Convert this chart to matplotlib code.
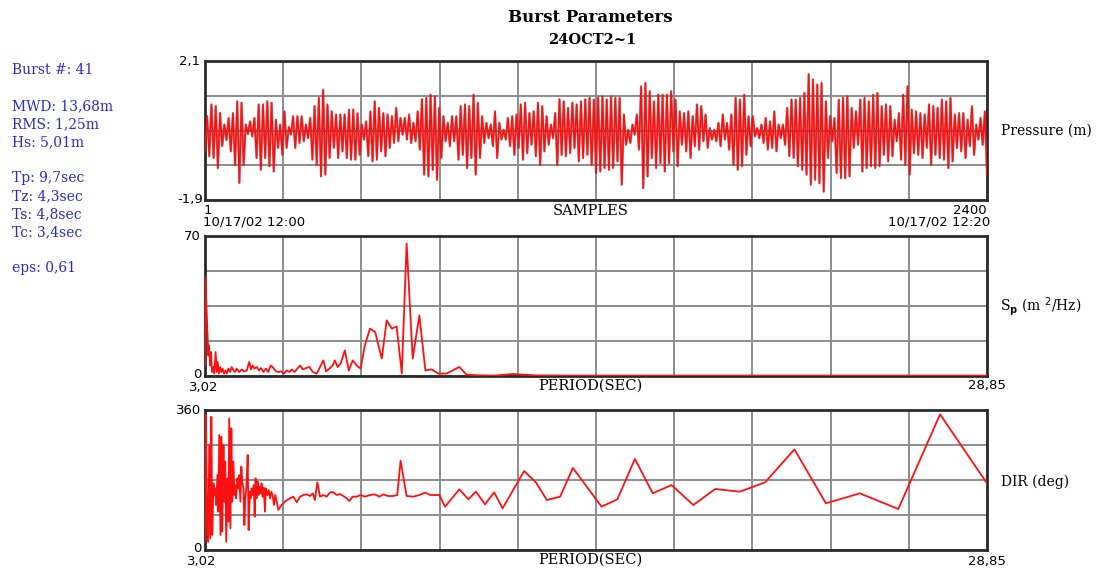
import matplotlib
matplotlib.use('Agg')
import matplotlib.pyplot as plt
import numpy as np

# pressure record, successive crest / trough values (m), in time order
p_ext_a = [-0.5, 0.51, -0.64, 0.85, -0.69, 0.80, -0.98, 0.6, -0.35, 0.27, -0.17, 0.46, -0.5,
           0.6, -0.89, 0.94, -1.41, 0.9, -0.89, 0.27, 0.0, 0.36, -0.07, 0.46, -0.69, 0.85, -1.03,
           0.85, -0.69, 0.94, -0.93, 0.9, -1.08, 0.41, -0.4, 0.27, -0.6, 0.65, -0.4, 0.2, -0.02,
           0.51, -0.4, 0.51, -0.26, 0.51, -0.21, 0.27, -0.12, 0.46, -0.74, 0.8, -0.89, 1.04, -1.22,
           1.27, -1.17, 0.85, -0.69, 0.65, -0.4, 0.56, -0.69, 0.56, -0.5, 0.56, -0.69, 0.7, -0.74,
           0.7, -0.74, 0.6, -0.6, 0.27, -0.16, 0.36, -0.64, 0.65, -0.79, 0.94, -0.74, 0.75, -0.5]
p_ext_b = [0.6, -0.64, 0.56, -0.4, 0.51, -0.26, 0.75, -0.21, 0.46, -0.02, 0.46, -0.16, 0.56, -0.26,
           0.32, -0.21, 0.65, -0.45, 1.0, -1.17, 1.04, -1.22, 1.13, -1.03, 1.08, -1.32, 0.75, -0.69,
           0.51, -0.21, 0.32, -0.35, 0.51, -0.21, 0.51, -0.74, 0.8, -0.6, 0.85, -0.98, 0.8, -0.69,
           1.13, -1.17, 0.9, -0.69, 0.51, -0.26, 0.32, -0.12, 0.27, -0.35, 0.65, -0.69, 0.32, -0.16,
           0.12, -0.16, 0.46, -0.35, 0.51, -0.6, 0.56, -0.4, 0.85, -0.74, 0.9, -0.55, 0.6, -0.31,
           0.65, -0.64, 0.9, -0.89, 0.8, -0.5, 0.51, -0.31, 0.27, -0.12, 0.6, -0.89, 1.0, -0.6,
           0.94, -0.64, 0.75, -0.55, 0.9, -0.4, 0.85, -0.79, 0.94, -0.69, 1.0, -0.6]
p_ext_c = [1.04, -0.89, 0.99, -1.12, 1.04, -1.08, 1.08, -0.98, 0.99, -1.03, 1.08, -0.98, 1.04, -0.79,
           1.04, -1.46, 0.56, -0.31, 0.12, -0.26, 0.27, -0.02, 0.56, -0.45, 1.37, -1.56, 1.47, -1.22,
           1.23, -0.69, 0.94, -0.98, 1.13, -0.84, 1.13, -1.08, 1.13, -0.84, 1.23, -0.5, 0.99, -0.93,
           0.65, -0.31, 0.6, -0.5, 0.65, -0.69, 0.51, -0.35, 0.85, -0.45, 0.8, -0.21, 0.56, -0.4,
           0.17, -0.16, 0.12, -0.21, 0.32, -0.35, 0.56, -0.16, 0.32, -0.45, 0.56, -0.89, 1.04, -1.03,
           0.99, -0.93, 1.13, -0.6, 0.51, -0.35, 0.51, -0.07, 0.17, -0.12, 0.27, -0.26, 0.46, -0.45,
           0.36, -0.4, 0.65, -0.5, 0.27, -0.12]
p_ext_d = [0.27, -0.31, 0.75, -0.64, 0.99, -0.69, 0.99, -0.93, 1.04, -1.03, 1.18, -1.17, 1.72, -1.46,
           1.57, -1.32, 1.42, -1.42, 1.47, -1.66, 0.94, -0.69, 0.51, -0.21, 0.46, -1.12, 0.99, -1.27,
           1.04, -1.27, 1.08, -1.22, 0.75, -0.4, 0.65, -0.31, 0.99, -1.08, 1.04, -0.98, 0.94, -0.93,
           1.13, -0.98, 1.18, -0.93, 0.8, -0.6, 0.85, -0.79, 0.8, -0.64, 0.41, -0.21, 0.6, -0.74,
           1.13, -0.89, 1.37, -1.17, 0.7, -0.55, 0.65, -0.6, 0.6, -0.69, 0.56, -0.4, 0.85, -0.89,
           0.8, -0.6, 0.75, -0.69, 0.99, -0.74, 0.94, -0.98, 1.04, -0.79, 0.56, -0.4, 0.6, -0.5,
           0.6, -0.69, 0.41, -0.35, 0.8, -0.6, 0.27, -0.16, 0.46, -0.31, 0.65, -1.17]
n_samples = 2400
p_lim = (-1.9, 2.1)
t_first, t_last = '10/17/02 12:00', '10/17/02 12:20'

# pressure spectrum Sp (m^2/Hz) against period (s)
sp_period = [3.02, 3.03, 3.06, 3.10, 3.13, 3.15, 3.19, 3.22, 3.25, 3.30, 3.33, 3.37, 3.41, 3.44,
             3.48, 3.52, 3.56, 3.60, 3.65, 3.69, 3.74, 3.79, 3.85, 3.90, 3.96, 4.01, 4.07, 4.15,
             4.23, 4.31, 4.40, 4.48, 4.54, 4.59, 4.65, 4.73, 4.80, 4.87, 4.95, 5.03, 5.11, 5.19,
             5.28, 5.37, 5.44, 5.53, 5.63, 5.72, 5.81, 5.89, 5.98, 6.07, 6.16, 6.25, 6.36, 6.47,
             6.58, 6.71, 6.82, 6.93, 7.02, 7.13, 7.24, 7.31, 7.40, 7.50, 7.64, 7.77, 7.90, 8.03,
             8.16, 8.30, 8.47, 8.64, 8.86, 9.02, 9.19, 9.35, 9.52, 9.68, 9.88, 10.10, 10.30, 10.51,
             10.73, 11.00, 11.42, 11.66, 11.97, 12.57, 13.19, 13.95, 14.75, 16.12, 17.22, 18.43,
             19.87, 21.52, 23.53, 25.92, 28.85]
sp_value = [5.3, 49.5, 38.7, 22.0, 10.3, 15.3, 5.3, 12.0, 2.0, 4.5, 1.2, 12.0, 2.0, 7.0,
            1.2, 4.5, 2.0, 3.7, 1.2, 2.8, 1.2, 3.7, 2.0, 4.5, 2.8, 2.0, 3.7, 2.0,
            3.3, 2.3, 2.8, 7.0, 3.3, 5.3, 3.7, 4.5, 2.8, 4.0, 2.0, 3.7, 2.0, 5.3,
            4.0, 2.3, 2.0, 2.3, 1.2, 2.8, 2.0, 3.3, 2.0, 3.7, 5.3, 3.3, 4.0, 4.5,
            2.0, 1.2, 4.5, 7.8, 2.3, 3.7, 5.3, 7.8, 4.5, 6.2, 12.8, 2.8, 7.8, 5.3,
            3.7, 15.3, 23.7, 22.0, 8.7, 27.8, 23.7, 24.8, 1.2, 66.2, 8.7, 30.3, 2.8, 3.3,
            1.2, 1.2, 4.5, 0.7, 0.4, 0.2, 1.0, 0.3, 0.2, 0.2, 0.2, 0.2,
            0.2, 0.2, 0.2, 0.2, 0.2]
sp_lim = (0, 70)

# mean wave direction (deg) against period (s)
dir_period = [3.02, 3.05, 3.10, 3.13, 3.16, 3.20, 3.23, 3.26, 3.30, 3.33, 3.36, 3.39, 3.43, 3.46,
              3.49, 3.53, 3.56, 3.59, 3.63, 3.66, 3.69, 3.72, 3.76, 3.79, 3.82, 3.86, 3.89, 3.92,
              3.96, 3.99, 4.02, 4.05, 4.09, 4.12, 4.15, 4.19, 4.22, 4.25, 4.29, 4.32, 4.35, 4.39,
              4.43, 4.46, 4.50, 4.53, 4.56, 4.59, 4.63, 4.66, 4.69, 4.73, 4.76, 4.79, 4.83, 4.86,
              4.89, 4.92, 4.96, 5.00, 5.03, 5.08, 5.12, 5.17, 5.21, 5.25, 5.30, 5.34, 5.39,
              5.44, 5.55, 5.66, 5.74, 5.83, 5.94, 6.05, 6.16, 6.27, 6.38, 6.49, 6.58, 6.65, 6.73,
              6.82, 6.93, 7.04, 7.15, 7.26, 7.37, 7.48, 7.59, 7.70, 7.79, 7.90, 8.03, 8.16, 8.30,
              8.47, 8.63, 8.78, 8.91, 9.07, 9.24, 9.37, 9.48, 9.68, 9.90, 10.10, 10.29, 10.47,
              10.76, 10.95, 11.42, 11.72, 11.97, 12.27, 12.57, 12.85, 13.56, 13.95, 14.31, 14.75,
              15.17, 16.12, 16.64, 17.22, 17.81, 18.43, 19.15, 19.87, 20.69, 21.52, 22.49, 23.53,
              24.65, 25.92, 27.30, 28.85]
dir_value = [21.4, 347.1, 38.6, 21.4, 270.0, 30.0, 342.8, 38.6, 171.4, 141.4, 158.5, 115.7, 192.8,
             98.5, 295.7, 38.6, 291.4, 47.2, 270.0, 124.3, 227.1, 21.4, 184.2, 72.8, 338.5, 55.7,
             312.8, 124.3, 227.1, 141.4, 167.1, 132.8, 184.2, 158.5, 192.8, 124.3, 214.3, 175.7,
             158.5, 64.3, 132.8, 167.1, 244.2, 51.4, 150.0, 132.8, 158.5, 141.4, 167.1, 85.7,
             184.2, 132.8, 175.7, 141.4, 162.8, 145.7, 171.4, 137.1, 160.3, 98.5, 158.5, 141.4,
             154.3, 132.8, 150.0, 141.4, 115.7, 141.4, 124.3,
             102.9, 115.7, 124.3, 128.6, 132.9, 137.1, 122.6, 137.1, 141.4, 143.1, 138.8, 145.7,
             128.6, 174.0, 137.1, 141.4, 137.1, 148.3, 148.3, 141.4, 144.0, 138.8, 132.9, 126.0,
             137.1, 137.1, 141.4, 137.1, 141.4, 143.1, 137.1, 143.1, 138.8, 138.8, 141.4, 229.7,
             138.8, 137.1, 141.4, 147.4, 141.4, 141.4, 111.4, 156.0, 130.3, 150.0, 117.4, 148.3,
             107.1, 203.0, 174.0, 128.6, 137.1, 211.0, 111.4, 130.3, 234.0, 145.7, 167.1, 115.7,
             156.8, 150.0, 174.0, 258.8, 120.0, 145.7, 105.4, 348.9, 171.4]
dir_lim = (0, 360)

summary = {0: 'Burst #: 41', 2: 'MWD: 13,68m', 3: 'RMS: 1,25m', 4: 'Hs: 5,01m',
           6: 'Tp: 9,7sec', 7: 'Tz: 4,3sec', 8: 'Ts: 4,8sec', 9: 'Tc: 3,4sec', 11: 'eps: 0,61'}

W, H = 1099, 571
fig = plt.figure(figsize=(W / 100, H / 100), dpi=100)
fig.patch.set_facecolor('white')


def px(x, y):
    return x / W, 1 - y / H


def txt(x, y, s, **kw):
    kw.setdefault('fontsize', 9.5)
    kw.setdefault('va', 'center')
    fig.text(*px(x, y), s, **kw)


def panel(top, bottom, xlim, ylim):
    l, b = px(205, bottom)
    ax = fig.add_axes([l, b, 782 / W, (bottom - top) / H])
    ax.set_xlim(*xlim)
    ax.set_ylim(*ylim)
    ax.set_xticks(np.linspace(xlim[0], xlim[1], 11))
    ax.set_yticks(np.linspace(ylim[0], ylim[1], 5))
    ax.tick_params(length=0, labelbottom=False, labelleft=False)
    ax.grid(True, color='#8c8c8c', lw=1.4)
    for sp in ax.spines.values():
        sp.set_linewidth(2.0)
        sp.set_color('#2a2a2a')
    return ax


def fmt(v):
    return ('%g' % v).replace('.', ',')


serif = 'DejaVu Serif'

# pressure
ax1 = panel(61, 200, (1, n_samples), p_lim)
p_ext = np.array(p_ext_a + p_ext_b + p_ext_c + p_ext_d)
samples = np.linspace(1, n_samples, len(p_ext))
ax1.plot(samples, p_ext, color='#6a1414', lw=1.7, alpha=0.45, zorder=3)
ax1.plot(samples, p_ext, color='#ff1010', lw=1.15, zorder=4)

# spectrum
ax2 = panel(236, 376, (sp_period[0], sp_period[-1]), sp_lim)
ax2.plot(sp_period, sp_value, color='#ff1010', lw=1.3, zorder=4)

# direction
ax3 = panel(410, 550, (dir_period[0], dir_period[-1]), dir_lim)
ax3.plot(dir_period, dir_value, color='#ff1010', lw=1.3, zorder=4)

# titles
txt(590, 18, 'Burst Parameters', family=serif, weight='bold', fontsize=12, ha='center')
txt(592, 40, '24OCT2~1', family=serif, weight='bold', fontsize=10.5, ha='center')

# summary block
for k, s in summary.items():
    txt(12, 70 + 18 * k, s, family=serif, fontsize=10, color='#2a2acc', ha='left')

# pressure axis labels
txt(200, 61, fmt(p_lim[1]), ha='right')
txt(203, 199, fmt(p_lim[0]), ha='right')
txt(204, 211, '1', ha='left')
txt(203, 222, t_first, ha='left')
txt(591, 211, 'SAMPLES', family=serif, fontsize=10.5, ha='center')
txt(987, 211, str(n_samples), ha='right')
txt(990, 222, t_last, ha='right')
txt(1001, 131, 'Pressure (m)', family=serif, fontsize=10, ha='left')

# spectrum axis labels
txt(201, 236, fmt(sp_lim[1]), ha='right')
txt(202, 375, fmt(sp_lim[0]), ha='right')
txt(204, 387, fmt(sp_period[0]), ha='center')
txt(590, 386, 'PERIOD(SEC)', family=serif, fontsize=10.5, ha='center')
txt(987, 386, fmt(sp_period[-1]), ha='center')
txt(1000, 307, r'S$_{\mathbf{p}}$ (m $^{2}$/Hz)', family=serif, fontsize=10, ha='left')

# direction axis labels
txt(201, 410, fmt(dir_lim[1]), ha='right')
txt(201, 549, fmt(dir_lim[0]), ha='right')
txt(202, 561, fmt(dir_period[0]), ha='center')
txt(590, 560, 'PERIOD(SEC)', family=serif, fontsize=10.5, ha='center')
txt(987, 561, fmt(dir_period[-1]), ha='center')
txt(1001, 482, 'DIR (deg)', family=serif, fontsize=10, ha='left')

fig.savefig('out.png', dpi=100, facecolor='white')
